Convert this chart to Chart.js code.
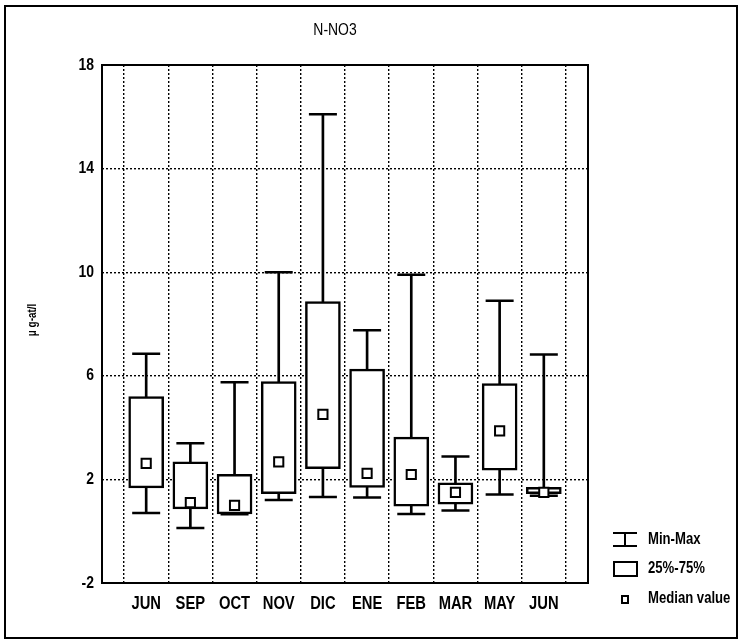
<!DOCTYPE html>
<html>
<head>
<meta charset="utf-8">
<title>N-NO3</title>
<script src="https://cdn.jsdelivr.net/npm/chart.js@4.4.1/dist/chart.umd.min.js"></script>
<style>
  body { margin: 0; background: #fff; }
  #wrap { width: 742px; height: 644px; }
</style>
</head>
<body>
<div id="wrap"><canvas id="boxChart" width="742" height="644"></canvas></div>
<script>
// months sampled
const months = ['JUN', 'SEP', 'OCT', 'NOV', 'DIC', 'ENE', 'FEB', 'MAR', 'MAY', 'JUN'];

// N-NO3, µg-at/l
const minValues    = [0.70, 0.12, 0.65, 1.20, 1.32, 1.30, 0.66, 0.80, 1.42, 1.37];
const q1Values     = [1.67, 0.86, 0.67, 1.45, 2.41, 1.69, 0.97, 1.04, 2.36, 1.45];
const medianValues = [2.62, 1.10, 1.00, 2.68, 4.51, 2.23, 2.19, 1.50, 3.87, 1.50];
const q3Values     = [5.20, 2.68, 2.20, 5.78, 8.87, 6.26, 3.63, 1.87, 5.70, 1.69];
const maxValues    = [6.85, 3.40, 5.75, 10.0, 16.1, 7.76, 9.90, 2.88, 8.90, 6.82];

const yTicks = [-2, 2, 6, 10, 14, 18];

const sans = '"Liberation Sans", Arial, sans-serif';

// empty slot on each side, like the original plot
function pad(arr) { return [null].concat(arr, [null]); }
const labels = pad(months).map(function (m) { return m || ''; });
const whiskers = pad(months.map(function (m, i) { return [minValues[i], maxValues[i]]; }));
const boxes = pad(months.map(function (m, i) { return [q1Values[i], q3Values[i]]; }));

// the original uses a narrow face; squeeze Liberation Sans to get close
function narrowText(ctx, text, x, y, font, align) {
    ctx.save();
    ctx.translate(x, y);
    ctx.scale(0.82, 1);
    ctx.font = font;
    ctx.textAlign = align;
    ctx.textBaseline = 'middle';
    ctx.fillText(text, 0, 0);
    ctx.restore();
}

// title, axis labels, frame and legend
const decorations = {
    id: 'decorations',
    afterDraw(chart) {
        const ctx = chart.ctx;
        const a = chart.chartArea;
        const xs = chart.scales.x;
        const ys = chart.scales.y;
        ctx.save();
        ctx.fillStyle = '#000';
        ctx.strokeStyle = '#000';

        // outer frame
        ctx.lineWidth = 2;
        ctx.strokeRect(5, 6, 732, 632);

        // plot frame
        ctx.strokeRect(a.left, a.top, a.right - a.left, a.bottom - a.top);

        narrowText(ctx, 'N-NO3', 335, 30, '17px ' + sans, 'center');

        // tick labels
        labels.forEach(function (lab, i) {
            if (lab) narrowText(ctx, lab, xs.getPixelForValue(i), 604, 'bold 18px ' + sans, 'center');
        });
        yTicks.forEach(function (v) {
            narrowText(ctx, String(v), 94, ys.getPixelForValue(v), 'bold 17px ' + sans, 'right');
        });

        ctx.save();
        ctx.translate(33, 320);
        ctx.rotate(-Math.PI / 2);
        narrowText(ctx, '\u03bc g-at/l', 0, 0, 'bold 12px ' + sans, 'center');
        ctx.restore();

        // legend
        ctx.lineWidth = 2;
        ctx.beginPath();
        ctx.moveTo(613, 533); ctx.lineTo(637, 533);
        ctx.moveTo(625, 533); ctx.lineTo(625, 546);
        ctx.moveTo(613, 546); ctx.lineTo(637, 546);
        ctx.stroke();
        narrowText(ctx, 'Min-Max', 648, 540, 'bold 16px ' + sans, 'left');

        ctx.strokeRect(614, 562, 23, 14);
        narrowText(ctx, '25%-75%', 648, 569, 'bold 16px ' + sans, 'left');

        ctx.strokeRect(622, 596, 6, 7);
        narrowText(ctx, 'Median value', 648, 599, 'bold 16px ' + sans, 'left');
        ctx.restore();
    }
};

const ctx = document.getElementById('boxChart').getContext('2d');
Chart.defaults.color = '#000';
const boxChart = new Chart(ctx, {
    type: 'bar',
    data: {
        labels: labels,
        datasets: [
            {
                label: 'Min-Max',
                data: whiskers,
                backgroundColor: '#000',
                barThickness: 2,
                grouped: false,
                order: 3
            },
            {
                label: '25%-75%',
                data: boxes,
                backgroundColor: '#fff',
                borderColor: '#000',
                borderWidth: 2.5,
                borderSkipped: false,
                barThickness: 35,
                grouped: false,
                order: 1
            },
            {
                type: 'line',
                label: 'Max',
                data: pad(maxValues),
                showLine: false,
                pointStyle: 'line',
                pointRadius: 14,
                pointBorderWidth: 2.5,
                pointBorderColor: '#000',
                order: 2
            },
            {
                type: 'line',
                label: 'Min',
                data: pad(minValues),
                showLine: false,
                pointStyle: 'line',
                pointRadius: 14,
                pointBorderWidth: 2.5,
                pointBorderColor: '#000',
                order: 2
            },
            {
                type: 'line',
                label: 'Median value',
                data: pad(medianValues),
                showLine: false,
                pointStyle: 'rect',
                pointRadius: 6.5,
                pointBorderWidth: 2,
                pointBorderColor: '#000',
                pointBackgroundColor: '#fff',
                order: 0
            }
        ]
    },
    options: {
        responsive: false,
        animation: false,
        layout: { padding: { left: 0, top: 65, right: 154, bottom: 0 } },
        plugins: {
            legend: { display: false },
            title: { display: false },
            tooltip: { enabled: false }
        },
        scales: {
            x: {
                type: 'category',
                offset: false,
                grid: { color: '#000', lineWidth: 1.4, drawTicks: false },
                border: { display: false, dash: [2, 2] },
                ticks: { display: false },
                afterFit(scale) { scale.height = 61; }
            },
            y: {
                min: -2,
                max: 18,
                afterBuildTicks(scale) { scale.ticks = yTicks.map(function (v) { return { value: v }; }); },
                grid: { color: '#000', lineWidth: 1.4, drawTicks: false },
                border: { display: false, dash: [2, 2] },
                ticks: { display: false },
                afterFit(scale) { scale.width = 102; }
            }
        }
    },
    plugins: [decorations]
});
</script>
</body>
</html>
